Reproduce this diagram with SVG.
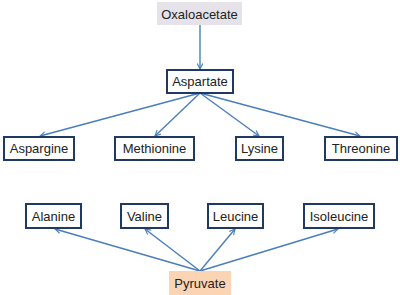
<svg xmlns="http://www.w3.org/2000/svg" width="400" height="295" viewBox="0 0 400 295">
<defs>
<marker id="ah" viewBox="0 0 10 10" refX="9" refY="5" markerWidth="7" markerHeight="7" orient="auto" markerUnits="userSpaceOnUse">
<path d="M1,1 L9,5 L1,9" fill="none" stroke="#4a7ebb" stroke-width="1.6"/>
</marker>
<style>
.box{fill:#fff;stroke:#1f3864;stroke-width:2}
.t{font-family:"Liberation Sans",Arial,sans-serif;font-size:13px;fill:#222;text-anchor:middle;dominant-baseline:central}
.c{stroke:#4a7ebb;stroke-width:1.4;fill:none;marker-end:url(#ah)}
</style>
</defs>
<rect width="400" height="295" fill="#fff"/>
<g id="connectors">
<line class="c" x1="200" y1="25" x2="200" y2="69"/>
<line class="c" x1="200" y1="93" x2="40" y2="136"/>
<line class="c" x1="200" y1="93" x2="155" y2="136"/>
<line class="c" x1="200" y1="93" x2="259" y2="136"/>
<line class="c" x1="200" y1="93" x2="360" y2="136"/>
<line class="c" x1="200" y1="271" x2="55" y2="229"/>
<line class="c" x1="200" y1="271" x2="145" y2="229"/>
<line class="c" x1="200" y1="271" x2="235" y2="229"/>
<line class="c" x1="200" y1="271" x2="338" y2="229"/>
</g>
<g id="oxaloacetate"><rect x="157" y="2" width="85" height="23" fill="#e6e2ea"/><text class="t" x="199.5" y="14">Oxaloacetate</text></g>
<g id="aspartate"><rect class="box" x="167" y="70" width="66" height="23"/><text class="t" x="200" y="81.5">Aspartate</text></g>
<g id="aspargine"><rect class="box" x="4" y="137" width="70" height="23"/><text class="t" x="39" y="148.5">Aspargine</text></g>
<g id="methionine"><rect class="box" x="115" y="137" width="79" height="23"/><text class="t" x="154.5" y="148.5">Methionine</text></g>
<g id="lysine"><rect class="box" x="236" y="137" width="47" height="23"/><text class="t" x="259.5" y="148.5">Lysine</text></g>
<g id="threonine"><rect class="box" x="325" y="137" width="72" height="23"/><text class="t" x="361" y="148.5">Threonine</text></g>
<g id="alanine"><rect class="box" x="26" y="204" width="55" height="24"/><text class="t" x="53.5" y="216">Alanine</text></g>
<g id="valine"><rect class="box" x="121" y="204" width="47" height="24"/><text class="t" x="144.5" y="216">Valine</text></g>
<g id="leucine"><rect class="box" x="208" y="204" width="55" height="24"/><text class="t" x="235.5" y="216">Leucine</text></g>
<g id="isoleucine"><rect class="box" x="304" y="204" width="70" height="24"/><text class="t" x="339" y="216">Isoleucine</text></g>
<g id="pyruvate"><rect x="169" y="271" width="62" height="24" fill="#fbd4b4"/><text class="t" x="200" y="283">Pyruvate</text></g>
</svg>
